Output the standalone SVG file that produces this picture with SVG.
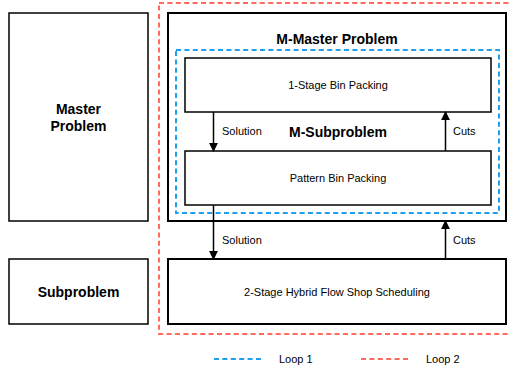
<svg xmlns="http://www.w3.org/2000/svg" width="509" height="370" viewBox="0 0 509 370">
<style>
.box{fill:#fff;stroke:#000;stroke-width:1.5}
.thick{fill:none;stroke:#000;stroke-width:2}
.t{font-family:"Liberation Sans",Arial,sans-serif;font-size:11px;fill:#000}
.b{font-family:"Liberation Sans",Arial,sans-serif;font-size:14px;font-weight:bold;fill:#000}
.red{fill:none;stroke:#FF6B5E;stroke-width:2;stroke-dasharray:5 3.4}
.blue{fill:none;stroke:#1E9FF2;stroke-width:2;stroke-dasharray:5 3.4}
.conn{stroke:#000;stroke-width:1.5;fill:none;marker-end:url(#ah)}
</style>
<defs>
<marker id="ah" viewBox="0 0 10 10" refX="9" refY="5" markerWidth="6" markerHeight="6" markerUnits="strokeWidth" orient="auto">
<path d="M0,0 L10,5 L0,10 Z" fill="#000"/>
</marker>
</defs>
<rect width="509" height="370" fill="#fff"/>
<g id="loop2"><rect class="red" x="159" y="3" width="370" height="331"/></g>
<g id="master-problem"><rect class="box" x="9" y="13" width="139" height="208"/>
<text class="b" x="78.5" y="114" text-anchor="middle">Master</text>
<text class="b" x="78.5" y="131" text-anchor="middle">Problem</text></g>
<g id="subproblem"><rect class="box" x="9" y="259" width="139" height="65"/>
<text class="b" x="78.5" y="297" text-anchor="middle">Subproblem</text></g>
<g id="m-master"><rect class="thick" x="168" y="13" width="338" height="208"/>
<text class="b" x="337" y="44" text-anchor="middle">M-Master Problem</text></g>
<g id="loop1"><rect class="blue" x="176" y="50" width="323" height="163"/></g>
<g id="m-subproblem-label"><text class="b" x="338" y="137" text-anchor="middle">M-Subproblem</text></g>
<g id="one-stage"><rect class="box" x="185" y="58" width="306" height="54"/>
<text class="t" x="338" y="89" text-anchor="middle">1-Stage Bin Packing</text></g>
<g id="pattern"><rect class="box" x="185" y="151" width="306" height="54"/>
<text class="t" x="338" y="182" text-anchor="middle">Pattern Bin Packing</text></g>
<g id="two-stage"><rect class="thick" x="168" y="259" width="338" height="65" fill="#fff"/>
<text class="t" x="337" y="295.5" text-anchor="middle">2-Stage Hybrid Flow Shop Scheduling</text></g>
<g id="connectors">
<line class="conn" x1="213.5" y1="112" x2="213.5" y2="151"/>
<line class="conn" x1="445.5" y1="151" x2="445.5" y2="112"/>
<line class="conn" x1="213.5" y1="205" x2="213.5" y2="259"/>
<line class="conn" x1="445.5" y1="259" x2="445.5" y2="221"/>
<text class="t" x="222" y="135">Solution</text>
<text class="t" x="453" y="135">Cuts</text>
<text class="t" x="222" y="244">Solution</text>
<text class="t" x="453" y="244">Cuts</text>
</g>
<g id="legend">
<line class="blue" x1="214" y1="359" x2="261" y2="359"/>
<text class="t" x="279" y="363">Loop 1</text>
<line class="red" x1="361" y1="359" x2="408" y2="359"/>
<text class="t" x="426" y="363">Loop 2</text>
</g>
</svg>
